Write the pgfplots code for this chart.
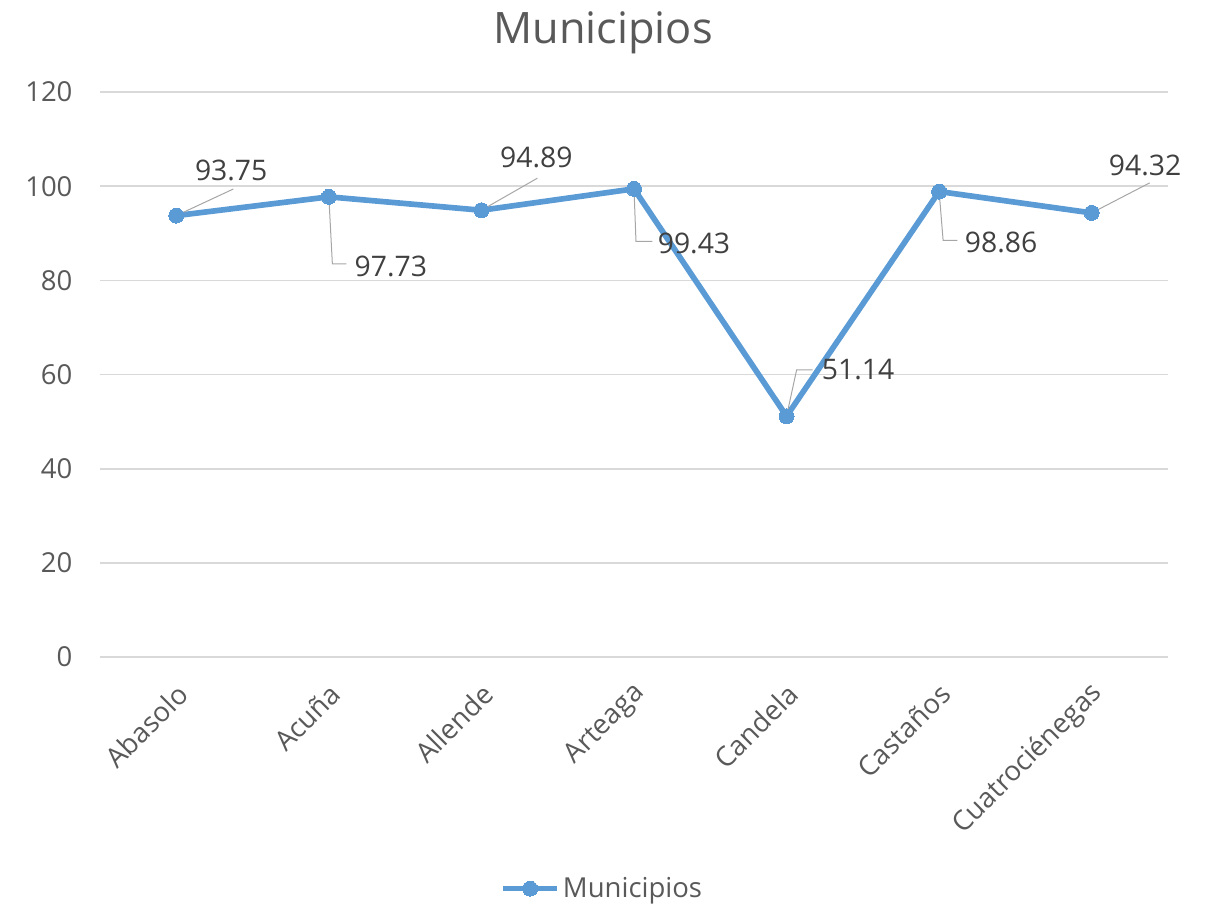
\documentclass[border=0pt]{standalone}
\usepackage{fontspec}
\setmainfont{Open Sans}
\usepackage{pgfplots}
\pgfplotsset{compat=1.18}
\definecolor{serie}{HTML}{5B9BD5}
\definecolor{textgray}{HTML}{595959}
\definecolor{labelgray}{HTML}{404040}
\definecolor{gridgray}{HTML}{D9D9D9}
\definecolor{leader}{HTML}{A6A6A6}

\begin{document}
\begin{tikzpicture}
\path[use as bounding box] (0,0) rectangle (723.6pt,-543.6pt);
\begin{axis}[
  at={(60pt,-394.2pt)}, anchor=south west,
  scale only axis, width=640.8pt, height=339pt,
  xmin=-0.5, xmax=6.5, ymin=0, ymax=120,
  xtick={0,...,6},
  xticklabels={Abasolo,Acuña,Allende,Arteaga,Candela,Castaños,Cuatrociénegas},
  ytick={0,20,...,120},
  ymajorgrids, grid style={color=gridgray, line width=1pt},
  axis line style={draw=none}, major tick length=0pt,
  tick label style={font=\fontsize{16.5}{20}\selectfont, text=textgray},
  /pgf/number format/assume math mode=true,
  yticklabel style={xshift=-13pt},
  xticklabel style={rotate=45, anchor=east, yshift=-16.5pt, xshift=-7.5pt},
  title=Municipios,
  title style={font=\fontsize{26}{31}\selectfont, text=textgray, at={(0.471,1)}, anchor=base, yshift=23pt},
  legend style={at={(0.471,-0.41)}, anchor=center, draw=none, fill=none,
    font=\fontsize{16.5}{20}\selectfont, text=textgray},
  legend image code/.code={\draw[mark repeat=2, mark phase=2, #1] plot coordinates {(0pt,0pt) (16pt,0pt) (32pt,0pt)};},
  clip=false,
]
\addplot[color=serie, line width=3.4pt, mark=*, mark size=4.5pt, mark options={fill=serie, draw=serie, line width=0pt}]
  coordinates {(0,93.75) (1,97.73) (2,94.89) (3,99.43) (4,51.14) (5,98.86) (6,94.32)};
\addlegendentry{Municipios}

% leader lines
\draw[leader, line width=0.6pt] (axis cs:0,93.75) -- (axis cs:0.374,99.4);
\draw[leader, line width=0.6pt] (axis cs:1,97.73) -- (axis cs:1.023,83.5) -- (axis cs:1.115,83.5);
\draw[leader, line width=0.6pt] (axis cs:2,94.89) -- (axis cs:2.367,101.7);
\draw[leader, line width=0.6pt] (axis cs:3,99.43) -- (axis cs:3.013,88.3) -- (axis cs:3.12,88.3);
\draw[leader, line width=0.6pt] (axis cs:4,51.14) -- (axis cs:4.066,61.0) -- (axis cs:4.17,61.0);
\draw[leader, line width=0.6pt] (axis cs:5,98.86) -- (axis cs:5.026,88.5) -- (axis cs:5.12,88.5);
\draw[leader, line width=0.6pt] (axis cs:6,94.32) -- (axis cs:6.38,100.7);

% data labels
\begin{scope}[every node/.style={font=\fontsize{17}{21}\selectfont, text=labelgray, inner sep=0pt}]
\node at (axis cs:0.36,103.4) {93.75};
\node[anchor=west] at (axis cs:1.167,83.0) {97.73};
\node at (axis cs:2.36,106.2) {94.89};
\node[anchor=west] at (axis cs:3.154,87.9) {99.43};
\node[anchor=west] at (axis cs:4.23,61.0) {51.14};
\node[anchor=west] at (axis cs:5.167,88.1) {98.86};
\node at (axis cs:6.35,104.5) {94.32};
\end{scope}
\end{axis}
\end{tikzpicture}
\end{document}
